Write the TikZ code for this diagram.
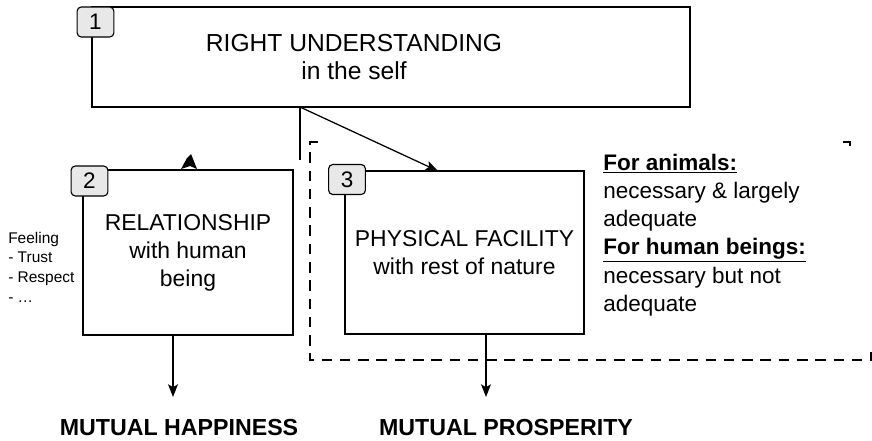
\documentclass[tikz,border=0pt]{standalone}
\usepackage{fontspec}
\setmainfont{Liberation Sans}
\usetikzlibrary{arrows.meta,calc}

\tikzset{
	bigbox/.style={draw, line width=0.9pt, fill=white, align=center, inner sep=0pt,
		font=\fontsize{16.3}{20}\selectfont},
	numtag/.style={draw, line width=0.8pt, fill=gray!18, rounded corners=3pt,
		minimum width=0.92cm, minimum height=0.75cm, inner sep=0pt,
		font=\fontsize{16}{18}\selectfont},
	arr/.style={line width=0.9pt, -{Stealth[length=9pt,width=7pt,inset=2pt]}},
	dashline/.style={line width=1.6pt, dash pattern=on 7.5pt off 5.5pt},
	goal/.style={font=\bfseries\fontsize{16.5}{18}\selectfont, inner sep=0pt}
}

\begin{document}
\begin{tikzpicture}[x=0.025cm, y=-0.025cm]
	\useasboundingbox (0,0) rectangle (872,440);

	% dashed frame round facility and its note
	\draw[dashline] (318,142) -- (310,142) -- (310,360) -- (871,360) -- (871,352);
	\draw[dashline] (843,142) -- (850,142) -- (850,150);

	% the three boxes
	\node[bigbox, minimum width=14.95cm, minimum height=2.5cm] (self) at (391,57) {};
	\node[font=\fontsize{17.5}{20}\selectfont, align=center] (selftext) at (354,57)
		{RIGHT UNDERSTANDING\\in the self};
	\node[bigbox, minimum width=5.25cm, minimum height=4.125cm] (rel) at (188,252.5)
		{RELATIONSHIP\\with human\\being};
	\node[bigbox, minimum width=5.975cm, minimum height=4.075cm] (phys) at (464.5,252.5)
		{PHYSICAL FACILITY\\with rest of nature};

	% number tags
	\node[numtag] (t1) at (95.5,22) {1};
	\node[numtag] (t2) at (89.5,181) {2};
	\node[numtag] (t3) at (347,179.5) {3};

	% side notes
	\node[anchor=west, align=left, inner sep=0pt, font=\fontsize{11}{14}\selectfont]
		(feel) at (8,267) {Feeling\\- Trust\\- Respect\\- \dots};
	\node[anchor=west, align=left, inner sep=0pt, font=\fontsize{16}{20}\selectfont]
		(note) at (603,235)
		{\textbf{\underline{For animals:}}\\necessary \& largely\\adequate\\
		 \textbf{\underline{For human beings:}}\\necessary but not\\adequate};

	% connectors
	\coordinate (split) at (300,107);
	\coordinate (stub) at (300,160);
	\coordinate (in3) at (438,171);
	\draw[line width=0.9pt] (split) -- (stub);
	\draw[arr] (split) -- (in3);
	\fill (181,169) -- (187,158) -- (191,154) -- (197,169) -- (190,166) -- cycle;

	\node[goal] (happy) at (179,428) {MUTUAL HAPPINESS};
	\node[goal] (prosp) at (506,428) {MUTUAL PROSPERITY};
	\coordinate (h) at (173,397);
	\coordinate (p) at (486,397);
	\draw[arr] (rel.south -| h) -- (h);
	\draw[arr] (phys.south -| p) -- (p);
\end{tikzpicture}
\end{document}
